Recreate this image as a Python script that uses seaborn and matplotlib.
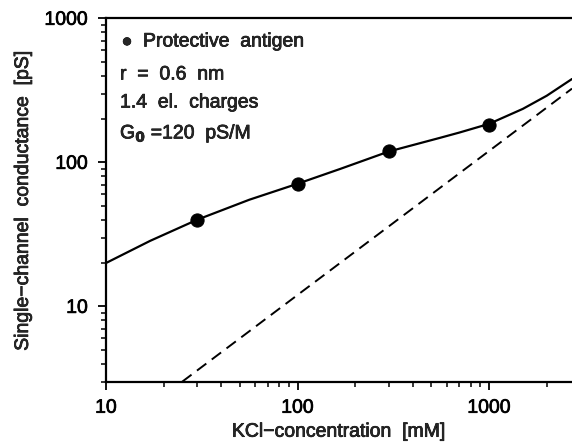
import matplotlib
matplotlib.use("Agg")
import matplotlib.pyplot as plt
import matplotlib.ticker as mticker
import matplotlib.patheffects as pe
import seaborn as sns
import pandas as pd

# Measured data (Protective antigen)
conc_mM = [30, 100, 300, 1000]
conductance_pS = [40, 71, 120, 181]

# Fitted curve
fit_conc = [10, 17, 30, 56, 100, 167, 300, 555, 700, 1000, 1500, 2000, 2710]
fit_cond = [20, 28.5, 40, 55, 71, 90, 119, 148, 161, 185, 235, 290, 379]

# Dashed line (G0 * c)
lin_conc = [25, 2710]
lin_cond = [3, 325]

x_ticks = [10, 100, 1000]
x_ticklabels = ["10", "100", "1000"]
y_ticks = [10, 100, 1000]
y_ticklabels = ["10", "100", "1000"]

sns.set_theme(style="ticks")
plt.rcParams["font.family"] = ["Liberation Sans", "DejaVu Sans"]

FS = 14
thick = [pe.withStroke(linewidth=0.5, foreground="black")]

fig = plt.figure(figsize=(5.72, 4.43), dpi=100)
ax = fig.add_axes([0.1853, 0.1384, 1.0 - 0.1853, 0.9587 - 0.1384])

df_fit = pd.DataFrame({"c": fit_conc, "g": fit_cond})
df_lin = pd.DataFrame({"c": lin_conc, "g": lin_cond})
df_pts = pd.DataFrame({"c": conc_mM, "g": conductance_pS})

sns.lineplot(data=df_fit, x="c", y="g", ax=ax, color="black", linewidth=1.6, sort=True)
sns.lineplot(data=df_lin, x="c", y="g", ax=ax, color="black", linewidth=1.4)
ax.lines[-1].set_dashes([6, 3.5])
sns.scatterplot(data=df_pts, x="c", y="g", ax=ax, color="black", s=90, edgecolor="black", zorder=5)

ax.set_xscale("log")
ax.set_yscale("log")
ax.set_xlim(10, 2710)
ax.set_ylim(3, 1000)

ax.xaxis.set_major_locator(mticker.FixedLocator(x_ticks))
ax.xaxis.set_major_formatter(mticker.FixedFormatter(x_ticklabels))
ax.yaxis.set_major_locator(mticker.FixedLocator(y_ticks))
ax.yaxis.set_major_formatter(mticker.FixedFormatter(y_ticklabels))
ax.xaxis.set_minor_locator(mticker.LogLocator(base=10, subs=range(2, 10), numticks=20))
ax.yaxis.set_minor_locator(mticker.LogLocator(base=10, subs=range(2, 10), numticks=20))
ax.xaxis.set_minor_formatter(mticker.NullFormatter())
ax.yaxis.set_minor_formatter(mticker.NullFormatter())

ax.tick_params(which="major", direction="out", length=6, width=1.3, colors="black",
               labelsize=FS, pad=7)
ax.tick_params(which="minor", direction="out", length=3.5, width=1.1, colors="black")
ax.tick_params(axis="x", which="both", top=False)
ax.tick_params(axis="y", which="both", right=False)
for lab in ax.get_xticklabels() + ax.get_yticklabels():
    lab.set_path_effects(thick)

for side in ["left", "bottom", "top"]:
    ax.spines[side].set_linewidth(1.6)
    ax.spines[side].set_color("black")
ax.spines["right"].set_visible(False)

xl = ax.set_xlabel("KCl\u2212concentration  [mM]", fontsize=FS, labelpad=5)
yl = ax.set_ylabel("Single\u2212channel  conductance  [pS]", fontsize=FS, labelpad=9)
xl.set_path_effects(thick)
yl.set_path_effects(thick)

texts = [
    fig.text(127 / 572, 1 - 42 / 443, "\u25cf", fontsize=13, ha="center", va="center"),
    fig.text(143 / 572, 1 - 42 / 443, "Protective  antigen", fontsize=FS, ha="left", va="center"),
    fig.text(120 / 572, 1 - 75 / 443, "r  =  0.6  nm", fontsize=FS, ha="left", va="center"),
    fig.text(120 / 572, 1 - 103 / 443, "1.4  el.  charges", fontsize=FS, ha="left", va="center"),
    fig.text(120 / 572, 1 - 134 / 443, r"G$_\mathbf{0}$ =120  pS/M", fontsize=FS, ha="left", va="center"),
]
for t in texts:
    t.set_path_effects(thick)

fig.savefig("out.png", dpi=100)
